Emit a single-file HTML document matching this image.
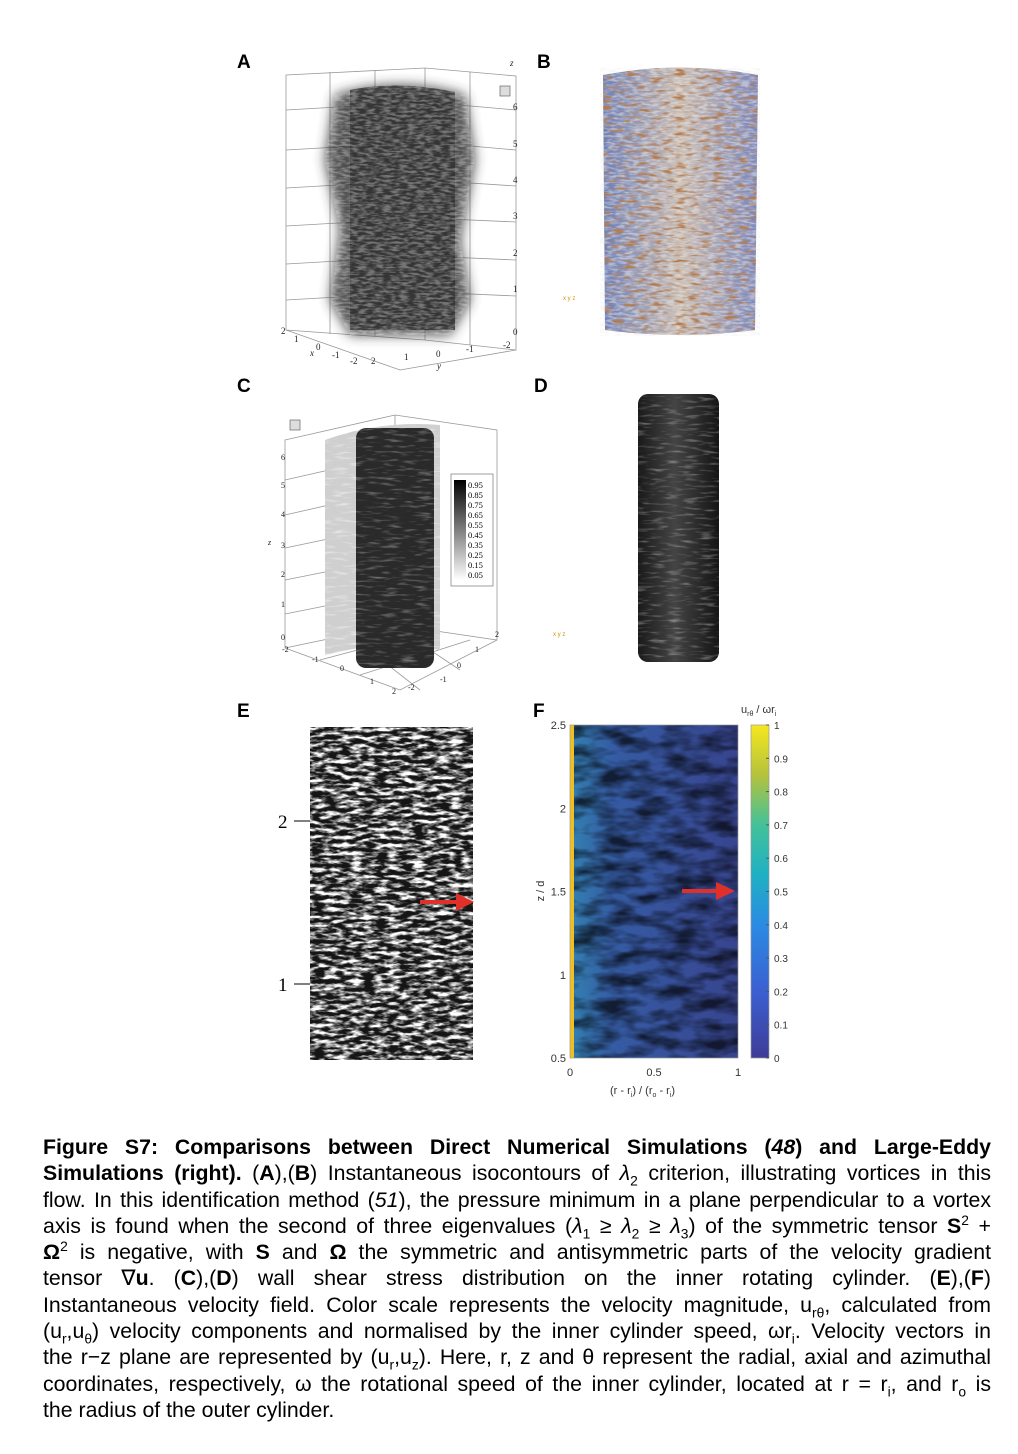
<!DOCTYPE html>
<html><head><meta charset="utf-8">
<style>
body{margin:0;background:#fff;width:1018px;height:1454px;position:relative;overflow:hidden;font-family:"Liberation Sans",sans-serif}
.lbl{position:absolute;font-weight:bold;font-size:19px}
#cap{position:absolute;left:43px;top:1134px;width:948px;font-size:21.3px;letter-spacing:0;line-height:26.3px;color:#000}
#cap div{text-align:justify;text-align-last:justify;white-space:nowrap;overflow:visible}
#cap div.last{text-align-last:left}
sub,sup{font-size:0.65em;line-height:0}
</style></head><body>
<div class="lbl" style="left:237px;top:52px">A</div>
<div class="lbl" style="left:537px;top:52px">B</div>
<div class="lbl" style="left:237px;top:376px">C</div>
<div class="lbl" style="left:534px;top:376px">D</div>
<div class="lbl" style="left:237px;top:701px">E</div>
<div class="lbl" style="left:533px;top:701px">F</div>

<svg id="fig" width="1018" height="1120" style="position:absolute;left:0;top:0">
<defs>
<filter id="vort" x="0" y="0" width="1" height="1">
 <feTurbulence type="fractalNoise" baseFrequency="0.12 0.45" numOctaves="2" seed="3"/>
 <feColorMatrix type="matrix" values="0 0 0 0 0.85  0 0 0 0 0.85  0 0 0 0 0.85  -3 0 0 0 1.9"/>
 <feComposite in2="SourceGraphic" operator="in"/>
</filter>
<filter id="streak" x="0" y="0" width="1" height="1">
 <feTurbulence type="fractalNoise" baseFrequency="0.06 0.35" numOctaves="2" seed="7"/>
 <feColorMatrix type="matrix" values="0 0 0 0 1  0 0 0 0 1  0 0 0 0 1  2.5 0 0 0 -1.3"/>
 <feComposite in2="SourceGraphic" operator="in"/>
</filter>
<filter id="brown" x="0" y="0" width="1" height="1">
 <feTurbulence type="fractalNoise" baseFrequency="0.08 0.3" numOctaves="2" seed="21"/>
 <feColorMatrix type="matrix" values="0 0 0 0 0.45  0 0 0 0 0.2  0 0 0 0 0.08  4 0 0 0 -2.1"/>
 <feComposite in2="SourceGraphic" operator="in"/>
</filter>
<filter id="vec" x="0" y="0" width="1" height="1">
 <feTurbulence type="fractalNoise" baseFrequency="0.08 0.25" numOctaves="3" seed="11"/>
 <feColorMatrix type="matrix" values="0 0 0 0 1  0 0 0 0 1  0 0 0 0 1  3.5 0 0 0 -1.45"/>
 <feComposite in2="SourceGraphic" operator="in"/>
</filter>
<filter id="vecf" x="0" y="0" width="1" height="1">
 <feTurbulence type="fractalNoise" baseFrequency="0.03 0.08" numOctaves="3" seed="4"/>
 <feColorMatrix type="matrix" values="0 0 0 0 0  0 0 0 0 0  0 0 0 0 0  2.5 0 0 0 -0.9"/>
 <feComposite in2="SourceGraphic" operator="in"/>
</filter>
<filter id="blur"><feGaussianBlur stdDeviation="6"/></filter>
<linearGradient id="viridis" x1="0" y1="1" x2="0" y2="0">
 <stop offset="0" stop-color="#3e3c97"/><stop offset="0.2" stop-color="#3b5fd1"/>
 <stop offset="0.4" stop-color="#2b8be3"/><stop offset="0.55" stop-color="#1fb0c3"/>
 <stop offset="0.7" stop-color="#44c19a"/><stop offset="0.85" stop-color="#b4c23c"/>
 <stop offset="1" stop-color="#f6e81f"/></linearGradient>
<linearGradient id="grey" x1="0" y1="1" x2="0" y2="0"><stop offset="0" stop-color="#fff"/><stop offset="1" stop-color="#000"/></linearGradient>
<linearGradient id="cylB" x1="0" x2="1"><stop offset="0" stop-color="#6d7fb8"/><stop offset="0.5" stop-color="#c9bbb0"/><stop offset="1" stop-color="#7b86ba"/></linearGradient>
<linearGradient id="cylD" x1="0" x2="1"><stop offset="0" stop-color="#1a1a1a"/><stop offset="0.45" stop-color="#444"/><stop offset="1" stop-color="#151515"/></linearGradient>
<linearGradient id="fbg" x1="0" x2="1"><stop offset="0" stop-color="#3aa0d8"/><stop offset="0.25" stop-color="#3e6fc6"/><stop offset="1" stop-color="#414fa8"/></linearGradient>
</defs>

<!-- Panel A -->
<g stroke="#999" stroke-width="0.8" fill="none">
 <path d="M286 75 L425 68 L516 76 L516 350 L425 340 L286 330 Z"/>
 <path d="M286 330 L400 370 L516 350"/>
 <path d="M286 110 L425 102 M286 150 L425 142 M286 188 L425 180 M286 226 L425 218 M286 264 L425 256 M286 300 L425 292"/>
 <path d="M425 68 L425 340 M330 72 L330 334 M375 70 L375 336"/>
 <path d="M425 102 L516 110 M425 142 L516 150 M425 180 L516 186 M425 218 L516 222 M425 256 L516 260 M425 292 L516 296"/>
 <path d="M470 72 L470 345"/>
</g>
<g>
 <path d="M335 95 Q400 75 465 95 L475 160 L460 240 L470 300 L450 335 L350 335 L330 300 L340 230 L325 160 Z" fill="#333" filter="url(#blur)" opacity="0.85"/>
 <path d="M350 90 Q400 80 455 92 L455 330 L350 330 Z" fill="#2e2e2e" opacity="0.8"/>
 <path d="M335 95 Q400 75 465 95 L475 160 L460 240 L470 300 L450 335 L350 335 L330 300 L340 230 L325 160 Z" fill="#fff" filter="url(#vort)" opacity="0.35"/>
</g>
<g font-family="Liberation Serif" font-size="9" fill="#222">
 <text x="513" y="335">0</text><text x="513" y="292">1</text><text x="513" y="256">2</text><text x="513" y="219">3</text><text x="513" y="183">4</text><text x="513" y="147">5</text><text x="513" y="110">6</text>
 <text x="510" y="66" font-style="italic">z</text>
 <text x="281" y="334">2</text><text x="294" y="342">1</text><text x="316" y="350">0</text><text x="332" y="358">-1</text><text x="350" y="364">-2</text>
 <text x="310" y="356" font-style="italic">x</text>
 <text x="371" y="364">2</text><text x="404" y="360">1</text><text x="436" y="357">0</text><text x="466" y="352">-1</text><text x="503" y="348">-2</text>
 <text x="437" y="369" font-style="italic">y</text>
</g>
<rect x="500" y="86" width="10" height="10" fill="#ddd" stroke="#666" stroke-width="0.7"/>

<!-- Panel B -->
<g>
 <path d="M603 75 Q680 60 758 75 L755 330 Q680 340 605 330 Z" fill="url(#cylB)"/>
 <path d="M600 68 L760 68 L760 336 L600 336 Z" fill="#6a87c8" filter="url(#vort)" opacity="0.5"/>
 <path d="M603 75 Q680 60 758 75 L755 330 Q680 340 605 330 Z" fill="#fff" filter="url(#brown)"/>
</g>
<text x="563" y="300" font-size="6" fill="#c90">x y z</text>

<!-- Panel C -->
<g stroke="#999" stroke-width="0.8" fill="none">
 <path d="M285 440 L395 415 L497 430 L497 640 L395 625 L285 648 Z"/>
 <path d="M285 648 L400 690 L497 640"/>
 <path d="M285 480 L395 455 M285 515 L395 490 M285 548 L395 525 M285 580 L395 558 M285 614 L395 592"/>
 <path d="M395 415 L395 625"/>
 <path d="M320 660 L440 628 M360 675 L470 640 M330 620 L420 690 M370 610 L460 670"/>
</g>
<path d="M325 440 Q380 420 440 425 L440 650 Q380 640 325 655 Z" fill="#cfcfcf"/>
<path d="M325 440 Q380 420 440 425 L440 650 Q380 640 325 655 Z" fill="#fff" filter="url(#streak)" opacity="0.6"/>
<rect x="356" y="428" width="78" height="240" rx="10" fill="#2a2a2a"/>
<rect x="356" y="428" width="78" height="240" fill="#bbb" filter="url(#streak)" opacity="0.4"/>
<g>
 <rect x="451" y="474" width="42" height="112" fill="#fff" stroke="#777" stroke-width="0.7"/>
 <rect x="454" y="480" width="12" height="100" fill="url(#grey)"/>
 <g id="cbC" font-family="Liberation Serif" font-size="8.5" fill="#000"></g>
</g>
<g font-family="Liberation Serif" font-size="8" fill="#222">
 <text x="281" y="640">0</text><text x="281" y="607">1</text><text x="281" y="577">2</text><text x="281" y="548">3</text><text x="281" y="517">4</text><text x="281" y="488">5</text><text x="281" y="460">6</text>
 <text x="268" y="545" font-style="italic">z</text>
 <text x="282" y="652">-2</text><text x="312" y="662">-1</text><text x="340" y="671">0</text><text x="370" y="684">1</text><text x="392" y="694">2</text>
 <text x="408" y="690">-2</text><text x="440" y="682">-1</text><text x="457" y="668">0</text><text x="475" y="652">1</text><text x="495" y="637">2</text>
</g>
<rect x="290" y="420" width="10" height="10" fill="#ddd" stroke="#666" stroke-width="0.7"/>

<!-- Panel D -->
<rect x="638" y="394" width="81" height="268" rx="10" fill="url(#cylD)"/>
<rect x="638" y="396" width="81" height="264" fill="#aaa" filter="url(#streak)" opacity="0.4"/>
<text x="553" y="636" font-size="6" fill="#c90">x y z</text>

<!-- Panel E -->
<g>
 <rect x="310" y="727" width="163" height="333" fill="#151515"/>
 <rect x="310" y="727" width="163" height="333" fill="#fff" filter="url(#vec)"/>
</g>
<g id="axE"></g>
<g><line x1="420" y1="902" x2="458" y2="902" stroke="#e0302a" stroke-width="4"/><polygon points="456,893 474,902 456,911" fill="#e0302a"/></g>

<!-- Panel F -->
<g>
 <rect x="570" y="725" width="168" height="333" fill="url(#fbg)"/>
 <rect x="570" y="725" width="168" height="333" fill="#000" filter="url(#vecf)" opacity="0.75"/>
 <rect x="570" y="725" width="168" height="333" fill="#1a2340" opacity="0.25"/>
 <rect x="570" y="725" width="4" height="333" fill="#f0c020"/>
 <rect x="570" y="725" width="168" height="333" fill="none" stroke="#999" stroke-width="0.7"/>
</g>
<rect x="751" y="725" width="18" height="333" fill="url(#viridis)" stroke="#999" stroke-width="0.7"/>
<g id="axF" font-size="11" fill="#333"></g>
<g><line x1="682" y1="891" x2="718" y2="891" stroke="#e0302a" stroke-width="4"/><polygon points="716,882 735,891 716,900" fill="#e0302a"/></g>
<text x="741" y="713" font-size="11" fill="#333">u<tspan font-size="7" dy="3">rθ</tspan><tspan dy="-3"> / ωr</tspan><tspan font-size="7" dy="3">i</tspan></text>
<text x="610" y="1094" font-size="11" fill="#333">(r - r<tspan font-size="7" dy="3">i</tspan><tspan dy="-3">) / (r</tspan><tspan font-size="7" dy="3">o</tspan><tspan dy="-3"> - r</tspan><tspan font-size="7" dy="3">i</tspan><tspan dy="-3">)</tspan></text>
<text transform="translate(544,891) rotate(-90)" text-anchor="middle" font-size="11" fill="#333">z / d</text>
</svg>

<div id="cap">
<div><b>Figure S7: Comparisons between Direct Numerical Simulations (<i>48</i>) and Large-Eddy</b></div>
<div><b>Simulations (right).</b> (<b>A</b>),(<b>B</b>) Instantaneous isocontours of <i>λ</i><sub>2</sub> criterion, illustrating vortices in this</div>
<div>flow. In this identification method (<i>51</i>), the pressure minimum in a plane perpendicular to a vortex</div>
<div>axis is found when the second of three eigenvalues (<i>λ</i><sub>1</sub> ≥ <i>λ</i><sub>2</sub> ≥ <i>λ</i><sub>3</sub>) of the symmetric tensor <b>S</b><sup>2</sup> +</div>
<div><b>Ω</b><sup>2</sup> is negative, with <b>S</b> and <b>Ω</b> the symmetric and antisymmetric parts of the velocity gradient</div>
<div>tensor ∇<b>u</b>. (<b>C</b>),(<b>D</b>) wall shear stress distribution on the inner rotating cylinder. (<b>E</b>),(<b>F</b>)</div>
<div>Instantaneous velocity field. Color scale represents the velocity magnitude, u<sub>rθ</sub>, calculated from</div>
<div>(u<sub>r</sub>,u<sub>θ</sub>) velocity components and normalised by the inner cylinder speed, ωr<sub>i</sub>. Velocity vectors in</div>
<div>the r−z plane are represented by (u<sub>r</sub>,u<sub>z</sub>). Here, r, z and θ represent the radial, axial and azimuthal</div>
<div>coordinates, respectively, ω the rotational speed of the inner cylinder, located at r = r<sub>i</sub>, and r<sub>o</sub> is</div>
<div class="last">the radius of the outer cylinder.</div>
</div>

<script>
const cbCTicks=[0.95,0.85,0.75,0.65,0.55,0.45,0.35,0.25,0.15,0.05];
const eTicks=[1,2];
const fYTicks=[0.5,1,1.5,2,2.5];
const fXTicks=[0,0.5,1];
const fCbTicks=[0,0.1,0.2,0.3,0.4,0.5,0.6,0.7,0.8,0.9,1];
const NS='http://www.w3.org/2000/svg';
function mk(tag,attrs,parent,txt){const e=document.createElementNS(NS,tag);for(const k in attrs)e.setAttribute(k,attrs[k]);if(txt!==undefined)e.textContent=txt;parent.appendChild(e);return e;}
const gC=document.getElementById('cbC');
const cY=v=>580-(v-0)*100;
cbCTicks.forEach(v=>{const t=mk('text',{x:468,y:cY(v)+3},gC,v.toFixed(2));

});
const gE=document.getElementById('axE');
const eY=v=>984-(v-1)*163;
eTicks.forEach(v=>{const t=mk('text',{x:278,y:eY(v)+7,'font-family':'Liberation Serif','font-size':19},gE,String(v));


mk('line',{x1:294,x2:310,y1:eY(v),y2:eY(v),stroke:'#000','stroke-width':1},gE);});
const gF=document.getElementById('axF');
const fY=v=>1058-(v-0.5)/2*333;
const fX=v=>570+v*168;
const cbY=v=>1058-v*333;
fYTicks.forEach(v=>{const t=mk('text',{x:566,y:fY(v)+4,'text-anchor':'end'},gF,String(v));

});
fXTicks.forEach(v=>{const t=mk('text',{x:fX(v),y:1076,'text-anchor':'middle'},gF,String(v));

});
fCbTicks.forEach(v=>{const t=mk('text',{x:774,y:cbY(v)+4,'font-size':10},gF,String(v));


mk('line',{x1:766,x2:769,y1:cbY(v),y2:cbY(v),stroke:'#555'},gF);});
</script>
</body></html>
